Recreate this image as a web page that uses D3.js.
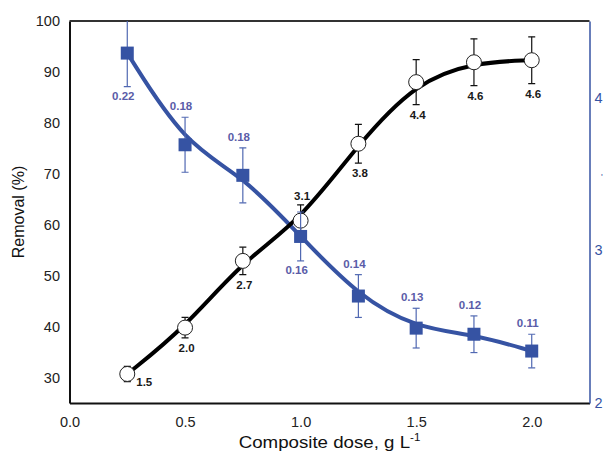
<!DOCTYPE html>
<html>
<head>
<meta charset="utf-8">
<script src="https://cdn.jsdelivr.net/npm/d3@7"></script>
<style>
  body { margin: 0; background: #fff; }
  text { font-family: "Liberation Sans", Arial, sans-serif; }
</style>
</head>
<body>
<div id="vis-holder"></div>
<script>
// chart values
const doses = [0.25, 0.5, 0.75, 1.0, 1.25, 1.5, 1.75, 2.0];
const removal = [30.7, 39.8, 52.9, 60.8, 75.9, 88.0, 91.9, 92.3];
const removalErr = [1.5, 2.0, 2.7, 3.1, 3.8, 4.4, 4.6, 4.6];
const capacity = [4.29, 3.69, 3.49, 3.09, 2.70, 2.49, 2.45, 2.34];
const capacityErr = [0.22, 0.18, 0.18, 0.16, 0.14, 0.13, 0.12, 0.11];
const xTicks = [0, 0.5, 1.0, 1.5, 2.0];
const yLeftTicks = [30, 40, 50, 60, 70, 80, 90, 100];
const yRightTicks = [2, 3, 4];

// where each value label sits relative to its error bar
const removalLabelPos = ["right", "below", "below", "above", "below", "below", "below", "below"];
const capacityLabelPos = ["below", "above", "above", "below", "above", "above", "above", "above"];

const width = 606, height = 451;
const margin = { top: 21, right: 16.5, bottom: 48, left: 69.5 };

const blue = "#3653a3";
const blueLight = "#5068b2";
const blueText = "#5a5ca8";

const svg = d3.select("#vis-holder")
  .append("svg")
  .attr("width", width)
  .attr("height", height);

const x = d3.scaleLinear().domain([0, 2.25]).range([margin.left, width - margin.right]);
const yL = d3.scaleLinear().domain([25, 100]).range([height - margin.bottom, margin.top]);
const yR = d3.scaleLinear().domain([2, 4.5]).range([height - margin.bottom, margin.top]);

const pts = doses.map((d, i) => ({
  x: d, r: removal[i], re: removalErr[i], c: capacity[i], ce: capacityErr[i],
  rp: removalLabelPos[i], cp: capacityLabelPos[i]
}));

svg.append("clipPath").attr("id", "plotclip")
  .append("rect")
  .attr("x", margin.left).attr("y", margin.top)
  .attr("width", width - margin.left - margin.right)
  .attr("height", height - margin.top - margin.bottom);

// axes
const xAxis = svg.append("g")
  .attr("transform", `translate(0,${height - margin.bottom})`)
  .call(d3.axisBottom(x).tickValues(xTicks).tickSize(0).tickPadding(13.5).tickFormat(d3.format(".1f")));
xAxis.select(".domain").attr("stroke", "#111").attr("stroke-width", 2);
xAxis.selectAll("text").attr("font-size", 14.5).attr("fill", "#222");

const yAxisL = svg.append("g")
  .attr("transform", `translate(${margin.left},0)`)
  .call(d3.axisLeft(yL).tickValues(yLeftTicks).tickSize(0).tickPadding(9.5));
yAxisL.select(".domain").attr("stroke", "#111").attr("stroke-width", 2);
yAxisL.selectAll("text").attr("font-size", 14.5).attr("fill", "#222");

const yAxisR = svg.append("g")
  .attr("transform", `translate(${width - margin.right},0)`)
  .call(d3.axisRight(yR).tickValues(yRightTicks).tickSize(0).tickPadding(5).tickFormat(d3.format("d")));
yAxisR.select(".domain").attr("stroke", blue).attr("stroke-width", 1.5);
yAxisR.selectAll("text").attr("font-size", 14.5).attr("fill", blue);

// top border
svg.append("line")
  .attr("x1", margin.left).attr("x2", width - margin.right)
  .attr("y1", margin.top).attr("y2", margin.top)
  .attr("stroke", "#333").attr("stroke-width", 2);

// axis titles
svg.append("text")
  .attr("transform", `translate(24,${(margin.top + height - margin.bottom) / 2}) rotate(-90)`)
  .attr("text-anchor", "middle")
  .attr("font-size", 16)
  .attr("fill", "#111")
  .text("Removal (%)");

const xt = svg.append("text")
  .attr("transform", `translate(${(margin.left + width - margin.right) / 2},448) scale(1.1,1)`)
  .attr("text-anchor", "middle")
  .attr("font-size", 17)
  .attr("fill", "#111");
xt.append("tspan").text("Composite dose, g L");
xt.append("tspan").attr("dy", -7).attr("font-size", 10.5).text("-1");

// cut-off right axis title mark
svg.append("text")
  .attr("x", 601).attr("y", 180)
  .attr("font-size", 9).attr("fill", blue)
  .text("'");

const plot = svg.append("g").attr("clip-path", "url(#plotclip)");

// smoothed trend lines
const curve = d3.curveBasis;

plot.append("path")
  .datum(pts)
  .attr("fill", "none")
  .attr("stroke", blue)
  .attr("stroke-width", 4)
  .attr("d", d3.line().curve(curve).x(d => x(d.x)).y(d => yR(d.c)));

plot.append("path")
  .datum(pts)
  .attr("fill", "none")
  .attr("stroke", "#000")
  .attr("stroke-width", 4)
  .attr("d", d3.line().curve(curve).x(d => x(d.x)).y(d => yL(d.r)));

function errorBars(g, yScale, val, err, color) {
  const e = g.selectAll(null).data(pts).enter().append("g")
    .attr("stroke", color).attr("stroke-width", 1.2);
  e.append("line")
    .attr("x1", d => x(d.x)).attr("x2", d => x(d.x))
    .attr("y1", d => yScale(d[val] - d[err])).attr("y2", d => yScale(d[val] + d[err]));
  e.append("line")
    .attr("x1", d => x(d.x) - 3.5).attr("x2", d => x(d.x) + 3.5)
    .attr("y1", d => yScale(d[val] - d[err])).attr("y2", d => yScale(d[val] - d[err]));
  e.append("line")
    .attr("x1", d => x(d.x) - 3.5).attr("x2", d => x(d.x) + 3.5)
    .attr("y1", d => yScale(d[val] + d[err])).attr("y2", d => yScale(d[val] + d[err]));
}

errorBars(plot, yL, "r", "re", "#111");

plot.selectAll(".dot")
  .data(pts)
  .enter().append("circle")
  .attr("class", "dot")
  .attr("cx", d => x(d.x))
  .attr("cy", d => yL(d.r))
  .attr("r", 7.5)
  .attr("fill", "#fff")
  .attr("stroke", "#222")
  .attr("stroke-width", 1);

errorBars(plot, yR, "c", "ce", blueLight);

plot.selectAll(".sq")
  .data(pts)
  .enter().append("rect")
  .attr("class", "sq")
  .attr("x", d => x(d.x) - 6.5)
  .attr("y", d => yR(d.c) - 6.5)
  .attr("width", 13)
  .attr("height", 13)
  .attr("fill", blue);

// value labels
svg.selectAll(".rlab")
  .data(pts)
  .enter().append("text")
  .attr("class", "rlab")
  .attr("font-size", 11.5)
  .attr("font-weight", "bold")
  .attr("fill", "#1a1a1a")
  .attr("text-anchor", d => d.rp === "right" ? "start" : "middle")
  .attr("x", d => d.rp === "right" ? x(d.x) + 9 : x(d.x) + 1.5)
  .attr("y", d => {
    if (d.rp === "right") return yL(d.r) + 12.5;
    if (d.rp === "above") return yL(d.r + d.re) - 5;
    return yL(d.r - d.re) + 14;
  })
  .text(d => d.re.toFixed(1));

svg.selectAll(".clab")
  .data(pts)
  .enter().append("text")
  .attr("class", "clab")
  .attr("font-size", 11.5)
  .attr("font-weight", "bold")
  .attr("fill", blueText)
  .attr("text-anchor", "middle")
  .attr("x", d => x(d.x) - 4)
  .attr("y", d => d.cp === "above" ? yR(d.c + d.ce) - 7 : yR(d.c - d.ce) + 13)
  .text(d => d.ce.toFixed(2));
</script>
</body>
</html>
